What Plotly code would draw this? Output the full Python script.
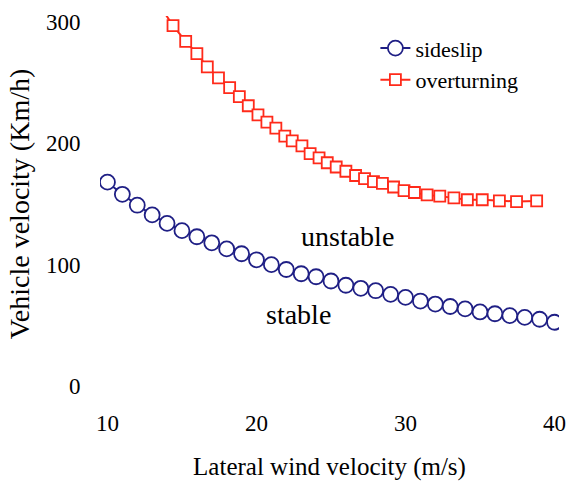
import plotly.graph_objects as go

# Data
wind_sideslip = list(range(10, 41))
v_sideslip = [168, 158, 149, 141, 134, 128, 123, 118, 113, 109,
              104, 100, 96, 92.5, 90, 86.5, 83, 80.5, 78.5, 75.5,
              73, 70, 67.5, 65.5, 63.5, 61, 59.5, 58, 56.5, 55, 52.5]

wind_overturn = [13.6, 14.4, 15.25, 16.0, 16.7, 17.45, 18.2, 18.85, 19.45, 20.1, 20.7,
                 21.3, 21.9, 22.4, 23.05, 23.6, 24.2, 24.75, 25.35, 26.0, 26.65,
                 27.25, 27.85, 28.45, 29.2, 29.9, 30.6, 31.45, 32.3, 33.25, 34.15,
                 35.15, 36.3, 37.45, 38.8]
v_overturn = [312, 297, 284, 274, 263, 254, 246, 238.5, 231, 223.5, 217.5,
              212.5, 206, 202, 198, 191.5, 188, 184, 180.5, 177, 173.5,
              171, 168.5, 167, 164, 161, 159.5, 157.5, 156.5, 155, 153.5,
              153.5, 152.5, 152, 152.5]

x_ticks = [10, 20, 30, 40]
y_ticks = [0, 100, 200, 300]

navy = "#1f1f85"
red = "#ff2a1a"
serif = "Times New Roman"

fig = go.Figure()
fig.add_trace(go.Scatter(
    x=wind_sideslip, y=v_sideslip, name="sideslip", mode="lines+markers",
    line=dict(color=navy, width=2),
    marker=dict(symbol="circle", size=15, color="white",
                line=dict(color=navy, width=1.8)),
))
fig.add_trace(go.Scatter(
    x=wind_overturn, y=v_overturn, name="overturning", mode="lines+markers",
    line=dict(color=red, width=2),
    marker=dict(symbol="square", size=11, color="white",
                line=dict(color=red, width=1.8)),
))

fig.add_annotation(x=26.1, y=123, text="unstable", showarrow=False,
                   font=dict(family=serif, size=28, color="black"))
fig.add_annotation(x=22.8, y=59, text="stable", showarrow=False,
                   font=dict(family=serif, size=28, color="black"))

fig.update_layout(
    width=576, height=485,
    margin=dict(l=100, r=11, t=10, b=91),
    paper_bgcolor="white", plot_bgcolor="white",
    font=dict(family=serif, color="black"),
    showlegend=True,
    legend=dict(x=0.6, y=0.97, xanchor="left", yanchor="top",
                font=dict(family=serif, size=22, color="black"),
                bgcolor="rgba(0,0,0,0)", tracegroupgap=0),
)
fig.update_xaxes(
    range=[9.5, 40.3], tickvals=x_ticks, showgrid=False, zeroline=False,
    showline=False, ticks="outside", ticklen=10, tickcolor="rgba(0,0,0,0)",
    tickfont=dict(family=serif, size=23, color="black"),
    title=dict(text="Lateral wind velocity (m/s)", standoff=22,
               font=dict(family=serif, size=25, color="black")),
)
fig.update_yaxes(
    range=[-5, 305], tickvals=y_ticks, showgrid=False, zeroline=False,
    showline=False, ticks="outside", ticklen=14, tickcolor="rgba(0,0,0,0)",
    tickfont=dict(family=serif, size=23, color="black"),
    title=dict(text="Vehicle velocity (Km/h)", standoff=8,
               font=dict(family=serif, size=28, color="black")),
)

fig.write_html("out.html")
